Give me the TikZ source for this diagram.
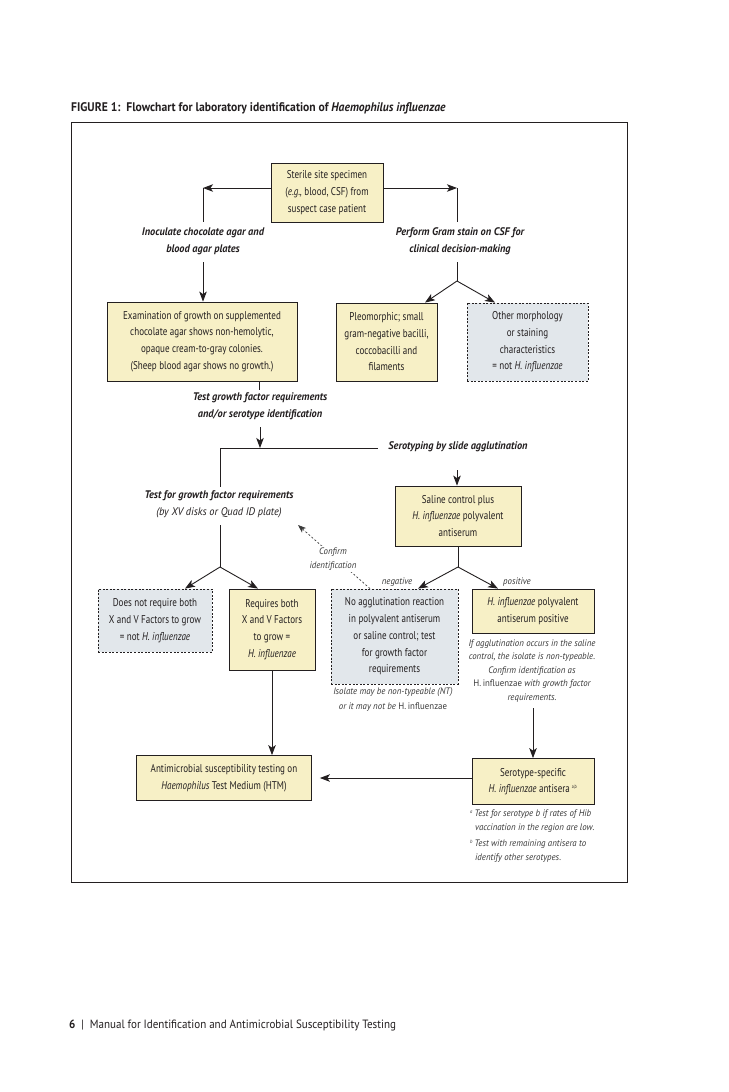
\documentclass[tikz,border=0pt]{standalone}
\usepackage{fontspec}
\setmainfont{PT Sans}[FakeStretch=0.8]
\newfontfamily\widefam{PT Sans}[FakeStretch=0.94]
\newfontfamily\ttlfam{PT Sans}[FakeStretch=0.93]
\newfontfamily\footfam{PT Sans}[FakeStretch=0.92]
\usetikzlibrary{arrows.meta}
\definecolor{boxyellow}{HTML}{F7F0C6}
\definecolor{boxgrey}{HTML}{E2E7EB}
\definecolor{inkc}{HTML}{231F20}
\definecolor{softink}{HTML}{3A3A3A}
\newcommand\bxfont{\fontsize{11.3}{16.7}\selectfont}
\newcommand\lbfont{\widefam\fontsize{11}{17}\selectfont\bfseries\itshape}
\newcommand\smfont{\widefam\fontsize{9.4}{13.5}\selectfont\itshape}
\newcommand\ttlfont{\ttlfam\fontsize{12.5}{15}\selectfont\bfseries}
\tikzset{
  box/.style={draw=inkc, line width=0.8pt, fill=boxyellow, align=center, font=\bxfont, text=inkc, inner sep=0pt},
  dbox/.style={box, fill=boxgrey, dash pattern=on 2pt off 1.6pt},
  lab/.style={align=center, font=\lbfont, text=inkc, inner sep=1pt},
  sm/.style={align=center, font=\smfont, text=softink, inner sep=1pt},
  arr/.style={-{Stealth[length=10pt,width=7.5pt,inset=2.5pt]}, line width=0.9pt, draw=inkc},
  ln/.style={line width=0.9pt, draw=inkc},
  darr/.style={-{Stealth[length=8pt,width=6pt,inset=2pt]}, line width=0.7pt, draw=softink, dash pattern=on 2pt off 2pt},
}
\begin{document}
\begin{tikzpicture}[x=1pt,y=-1pt]
\useasboundingbox (0,0) rectangle (728,1092);
\fill[white] (0,0) rectangle (728,1092);

% title, frame, footer
\node[anchor=west, font=\ttlfont, text=inkc, inner sep=0pt] (title) at (71,108) {FIGURE 1:\ \ Flowchart for laboratory identification of \textit{Haemophilus influenzae}};
\node[draw=inkc, line width=1pt, minimum width=556pt, minimum height=760pt, inner sep=0pt] (frame) at (349,502) {};
\node[anchor=west, font=\footfam\fontsize{12}{14}\selectfont, text=inkc, inner sep=0pt] (footer) at (69,1025) {\textbf{6}\ \ |\ \ Manual for Identification and Antimicrobial Susceptibility Testing};

% boxes
\node[box, minimum width=112pt, minimum height=59pt] (sterile) at (327,192.5) {Sterile site specimen\\(\textit{e.g.,} blood, CSF) from\\suspect case patient};
\node[box, minimum width=190pt, minimum height=79pt] (exam) at (202,341.5) {Examination of growth on supplemented\\chocolate agar shows non-hemolytic,\\opaque cream-to-gray colonies.\\(Sheep blood agar shows no growth.)};
\node[box, minimum width=101pt, minimum height=78pt] (pleo) at (386.5,342) {Pleomorphic; small\\gram-negative bacilli,\\coccobacilli and\\filaments};
\node[dbox, minimum width=121pt, minimum height=78pt] (other) at (527.5,342) {Other morphology\\or staining\\characteristics\\= not \textit{H. influenzae}};
\node[box, minimum width=126pt, minimum height=60pt] (saline) at (458,516) {Saline control plus\\\textit{H. influenzae} polyvalent\\antiserum};
\node[dbox, minimum width=114pt, minimum height=63pt] (notreq) at (155,620.5) {Does not require both\\X and V Factors to grow\\= not \textit{H. influenzae}};
\node[box, minimum width=86pt, minimum height=81pt] (req) at (272,629.5) {Requires both\\X and V Factors\\to grow =\\\textit{H. influenzae}};
\node[dbox, minimum width=127pt, minimum height=95pt] (noagg) at (394.5,636.5) {No agglutination reaction\\in polyvalent antiserum\\or saline control; test\\for growth factor\\requirements};
\node[box, minimum width=122pt, minimum height=44pt] (pos) at (533,611) {\textit{H. influenzae} polyvalent\\antiserum positive};
\node[box, minimum width=175pt, minimum height=45pt] (anti) at (224,778) {Antimicrobial susceptibility testing on\\\textit{Haemophilus} Test Medium (HTM)};
\node[box, minimum width=122pt, minimum height=46pt] (sero) at (533,781.5) {Serotype-specific\\\textit{H. influenzae} antisera\,\textsuperscript{\tiny a,b}};

% labels
\node[lab] (inoc) at (203,241.5) {Inoculate chocolate agar and\\blood agar plates};
\node[lab] (gram) at (460,241.5) {Perform Gram stain on CSF for\\clinical decision-making};
\node[lab] (testg) at (260,406.5) {Test growth factor requirements\\and/or serotype identification};
\node[lab] (serol) at (458,447) {Serotyping by slide agglutination};
\node[lab] (testf) at (219,504.5) {Test for growth factor requirements\\{\mdseries (by XV disks or Quad ID plate)}};
\node[sm] (negl) at (397,582) {negative};
\node[sm] (posl) at (517,582) {positive};
\node[sm] (isol) at (393,699.5) {Isolate may be non-typeable (NT)\\[1.5pt]or it may not be {\upshape H.\,influenzae}};
\node[sm] (aggl) at (532,671) {If agglutination occurs in the saline\\control, the isolate is non-typeable.\\Confirm identification as\\{\upshape H.\,influenzae} with growth factor\\requirements.};
\node[sm, align=left, anchor=north west, font=\widefam\fontsize{9.4}{14}\selectfont\itshape] (fnotes) at (469,809) {\textsuperscript{\tiny a}\,Test for serotype b if rates of Hib\\\hspace*{5pt}vaccination in the region are low.\\[2pt]\textsuperscript{\tiny b}\,Test with remaining antisera to\\\hspace*{5pt}identify other serotypes.};

% coordinates
\coordinate (cL) at (203,188);
\coordinate (cL2) at (203,222);
\coordinate (cL3) at (203,262);
\coordinate (cR) at (457,188);
\coordinate (cR2) at (457,222);
\coordinate (cR3) at (457,262);
\coordinate (sp1) at (457,281);
\coordinate (e1) at (259,390);
\coordinate (t1) at (260,427);
\coordinate (t2) at (260,448);
\coordinate (h1) at (220,448);
\coordinate (h2) at (378,448);
\coordinate (v1) at (220,487);
\coordinate (v2) at (220,525);
\coordinate (sp2) at (220,567);
\coordinate (s1) at (457,470);
\coordinate (sp3) at (458,567);
\coordinate (ct) at (298,525);
\coordinate (p1) at (533,708);

% connectors
\draw[arr] (sterile.west |- cL) -- (cL);
\draw[ln] (cL) -- (cL2);
\draw[arr] (cL3) -- (cL3 |- exam.north);
\draw[arr] (sterile.east |- cR) -- (cR);
\draw[ln] (cR) -- (cR2);
\draw[ln] (cR3) -- (sp1);
\draw[arr] (sp1) -- ([xshift=38.5pt]pleo.north);
\draw[arr] (sp1) -- ([xshift=-32.5pt]other.north);
\draw[ln] (e1 |- exam.south) -- (e1);
\draw[arr] (t1) -- (t2);
\draw[ln] (h1) -- (h2);
\draw[ln] (h1) -- (v1);
\draw[arr] (s1) -- (s1 |- saline.north);
\draw[ln] (v2) -- (sp2);
\draw[arr] (sp2) -- ([xshift=30pt]notreq.north);
\draw[arr] (sp2) -- ([xshift=-14pt]req.north);
\draw[ln] (saline.south) -- (sp3);
\draw[arr] (sp3) -- ([xshift=23.5pt]noagg.north);
\draw[arr] (sp3) -- ([xshift=-35pt]pos.north);
\draw[darr] ([xshift=-24.5pt]noagg.north) -- (ct);
\node[sm, fill=white, inner sep=2pt] (confirm) at (333,559) {Confirm\\identification};
\draw[arr] (req.south) -- (req.south |- anti.north);
\draw[arr] (p1) -- (sero.north);
\draw[arr, shorten >=8pt] (sero.west |- anti.east) -- (anti.east);
\end{tikzpicture}
\end{document}
